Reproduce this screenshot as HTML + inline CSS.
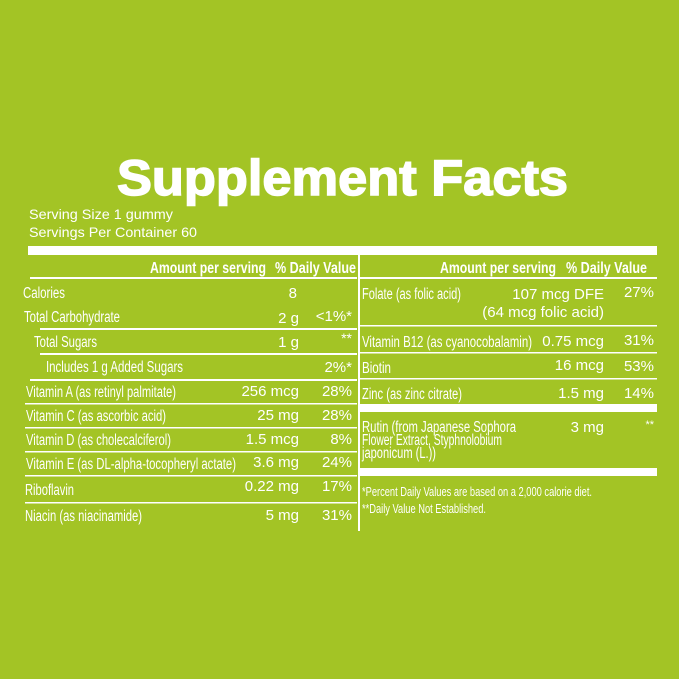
<!DOCTYPE html>
<html><head><meta charset="utf-8"><style>
html,body{margin:0;padding:0;background:#a3c425;}
svg{display:block}
text{fill:#fff;font-family:"Liberation Sans",sans-serif;font-size:14px;}
.l{font-size:15.5px}
.v{font-size:15px}
.b{font-weight:bold}
.r{text-anchor:end}
</style></head><body>
<svg width="679" height="679" viewBox="0 0 679 679">
<rect width="679" height="679" fill="#a3c425"/>
<text x="117" y="195" class="b" style="font-size:50px;stroke:#fff;stroke-width:1.5" textLength="451" lengthAdjust="spacingAndGlyphs">Supplement Facts</text>
<text x="29" y="219" textLength="144" lengthAdjust="spacingAndGlyphs">Serving Size 1 gummy</text>
<text x="29" y="237" textLength="168" lengthAdjust="spacingAndGlyphs">Servings Per Container 60</text>
<rect x="28" y="246" width="629" height="9" fill="#fff"/>
<rect x="358" y="255" width="2" height="276" fill="#fff"/>
<g fill="#fff">
<rect x="30" y="277" width="327" height="2"/>
<rect x="40" y="328" width="317" height="2"/>
<rect x="40" y="353" width="317" height="2"/>
<rect x="30" y="379" width="327" height="2"/>
<rect x="25" y="403" width="332" height="1.5"/>
<rect x="25" y="427" width="332" height="1.5"/>
<rect x="25" y="451" width="332" height="1.5"/>
<rect x="25" y="475" width="332" height="1.5"/>
<rect x="25" y="502" width="332" height="1.5"/>
<rect x="360" y="277" width="297" height="2"/>
<rect x="360" y="325" width="297" height="1.5"/>
<rect x="360" y="352" width="297" height="1.5"/>
<rect x="360" y="378" width="297" height="1.5"/>
<rect x="360" y="404" width="297" height="8"/>
<rect x="360" y="468" width="297" height="8"/>
</g>
<text x="150" y="273" class="b l" textLength="116" lengthAdjust="spacingAndGlyphs">Amount per serving</text>
<text x="275" y="273" class="b l" textLength="81" lengthAdjust="spacingAndGlyphs">% Daily Value</text>
<text x="23" y="298" class="l" textLength="42" lengthAdjust="spacingAndGlyphs">Calories</text><text x="297" y="298" class="r v">8</text>
<text x="24" y="322" class="l" textLength="96" lengthAdjust="spacingAndGlyphs">Total Carbohydrate</text><text x="299" y="323" class="r v">2 g</text><text x="352" y="321" class="r v">&lt;1%*</text>
<text x="34" y="347" class="l" textLength="63" lengthAdjust="spacingAndGlyphs">Total Sugars</text><text x="299" y="347" class="r v">1 g</text><text x="352" y="343" class="r">**</text>
<text x="46" y="372" class="l" textLength="137" lengthAdjust="spacingAndGlyphs">Includes 1 g Added Sugars</text><text x="352" y="372" class="r v">2%*</text>
<text x="26" y="397" class="l" textLength="150" lengthAdjust="spacingAndGlyphs">Vitamin A (as retinyl palmitate)</text><text x="299" y="396" class="r v">256 mcg</text><text x="352" y="396" class="r v">28%</text>
<text x="26" y="421" class="l" textLength="140" lengthAdjust="spacingAndGlyphs">Vitamin C (as ascorbic acid)</text><text x="299" y="420" class="r v">25 mg</text><text x="352" y="420" class="r v">28%</text>
<text x="26" y="445" class="l" textLength="145" lengthAdjust="spacingAndGlyphs">Vitamin D (as cholecalciferol)</text><text x="299" y="444" class="r v">1.5 mcg</text><text x="352" y="444" class="r v">8%</text>
<text x="26" y="469" class="l" textLength="210" lengthAdjust="spacingAndGlyphs">Vitamin E (as DL-alpha-tocopheryl actate)</text><text x="299" y="467" class="r v">3.6 mg</text><text x="352" y="467" class="r v">24%</text>
<text x="25" y="495" class="l" textLength="49" lengthAdjust="spacingAndGlyphs">Riboflavin</text><text x="299" y="491" class="r v">0.22 mg</text><text x="352" y="491" class="r v">17%</text>
<text x="25" y="521" class="l" textLength="117" lengthAdjust="spacingAndGlyphs">Niacin (as niacinamide)</text><text x="299" y="520" class="r v">5 mg</text><text x="352" y="520" class="r v">31%</text>
<text x="440" y="273" class="b l" textLength="116" lengthAdjust="spacingAndGlyphs">Amount per serving</text>
<text x="566" y="273" class="b l" textLength="81" lengthAdjust="spacingAndGlyphs">% Daily Value</text>
<text x="362" y="299" class="l" textLength="99" lengthAdjust="spacingAndGlyphs">Folate (as folic acid)</text><text x="604" y="299" class="r v">107 mcg DFE</text><text x="654" y="297" class="r v">27%</text>
<text x="604" y="317" class="r v">(64 mcg folic acid)</text>
<text x="362" y="347" class="l" textLength="170" lengthAdjust="spacingAndGlyphs">Vitamin B12 (as cyanocobalamin)</text><text x="604" y="346" class="r v">0.75 mcg</text><text x="654" y="345" class="r v">31%</text>
<text x="362" y="373" class="l" textLength="29" lengthAdjust="spacingAndGlyphs">Biotin</text><text x="604" y="370" class="r v">16 mcg</text><text x="654" y="371" class="r v">53%</text>
<text x="362" y="399" class="l" textLength="100" lengthAdjust="spacingAndGlyphs">Zinc (as zinc citrate)</text><text x="604" y="398" class="r v">1.5 mg</text><text x="654" y="398" class="r v">14%</text>
<text x="362" y="432" class="l" textLength="154" lengthAdjust="spacingAndGlyphs">Rutin (from Japanese Sophora</text><text x="604" y="432" class="r v">3 mg</text><text x="654" y="428" class="r" style="font-size:11px">**</text>
<text x="362" y="445" class="l" textLength="140" lengthAdjust="spacingAndGlyphs">Flower Extract, Styphnolobium</text>
<text x="362" y="458" class="l" textLength="74" lengthAdjust="spacingAndGlyphs">japonicum (L.))</text>
<text x="362" y="496" style="font-size:13px" textLength="230" lengthAdjust="spacingAndGlyphs">*Percent Daily Values are based on a 2,000 calorie diet.</text>
<text x="362" y="513" style="font-size:13px" textLength="124" lengthAdjust="spacingAndGlyphs">**Daily Value Not Established.</text>
</svg>
</body></html>
